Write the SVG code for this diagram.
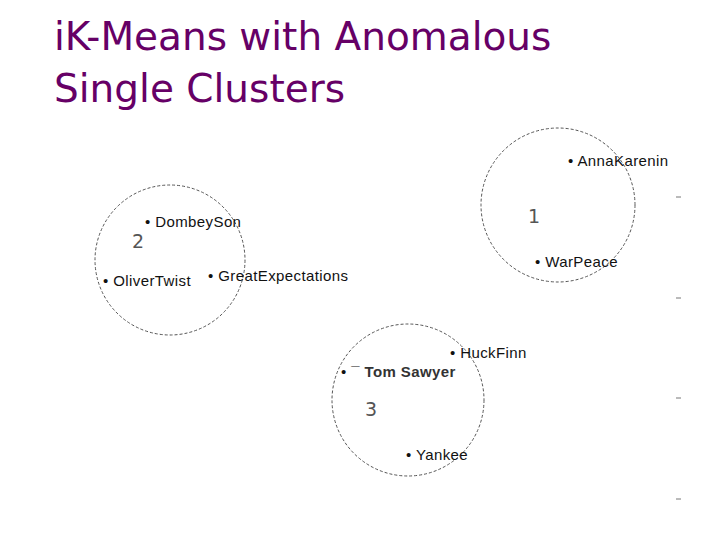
<svg xmlns="http://www.w3.org/2000/svg" width="720" height="540" viewBox="0 0 720 540">
<style>
.t{font-family:"DejaVu Sans","Liberation Sans",sans-serif;font-size:39px;fill:#660066}
.c{fill:none;stroke:#555;stroke-width:1;stroke-dasharray:3,2}
.l{font-family:"Liberation Sans",Arial,sans-serif;font-size:15px;letter-spacing:0.4px;fill:#111}
.n{font-family:"DejaVu Sans","Liberation Sans",sans-serif;font-size:19px;fill:#555}
.k{stroke:#777;stroke-width:1}
</style>
<rect width="720" height="540" fill="#fff"/>
<text class="t" x="54" y="50">iK-Means with Anomalous</text>
<text class="t" x="54" y="102">Single Clusters</text>
<g id="cluster1">
<circle class="c" cx="558" cy="205" r="77"/>
<text class="l" x="568" y="166">• AnnaKarenin</text>
<text class="n" x="528" y="223">1</text>
<text class="l" x="535" y="267">• WarPeace</text>
</g>
<g id="cluster2">
<circle class="c" cx="170" cy="260" r="75"/>
<text class="l" x="145" y="227">• DombeySon</text>
<text class="n" x="132" y="248">2</text>
<text class="l" x="103" y="286">• OliverTwist</text>
<text class="l" x="208" y="281">• GreatExpectations</text>
</g>
<g id="cluster3">
<circle class="c" cx="408" cy="400" r="76"/>
<text class="l" x="450" y="358">• HuckFinn</text>
<text class="l" x="341" y="377">• ¯  <tspan font-weight="bold" fill="#333">Tom Sawyer</tspan></text>
<text class="n" x="365" y="416">3</text>
<text class="l" x="406" y="460">• Yankee</text>
</g>
<g id="connectors">
<line class="k" x1="676" y1="197" x2="681" y2="197"/>
<line class="k" x1="676" y1="298" x2="681" y2="298"/>
<line class="k" x1="676" y1="398" x2="681" y2="398"/>
<line class="k" x1="676" y1="499" x2="681" y2="499"/>
</g>
</svg>
